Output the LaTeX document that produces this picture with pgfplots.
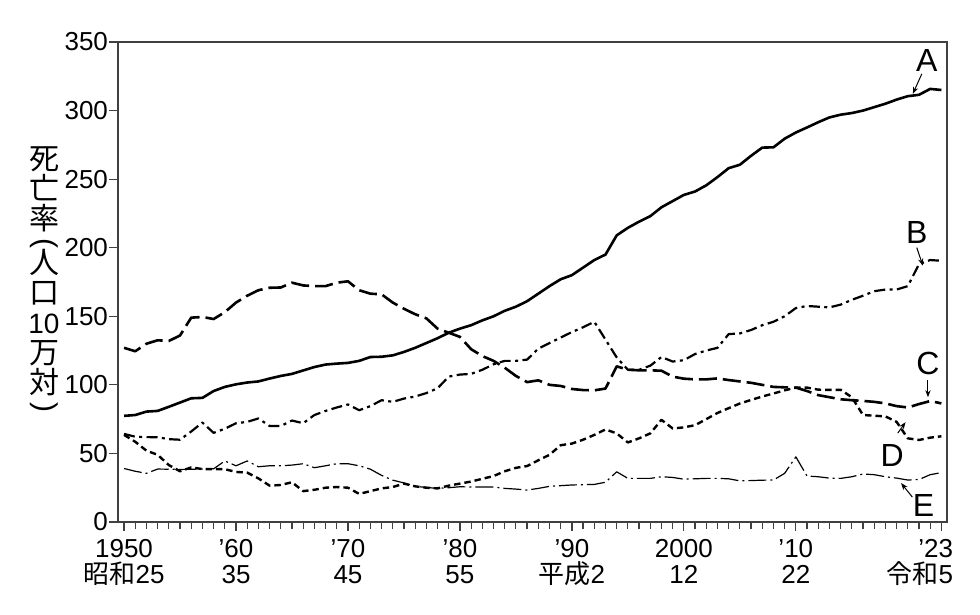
\documentclass[border=0pt]{standalone}
\usepackage{fontspec}
\setmainfont{Liberation Sans}
\newfontfamily\jp{Noto Sans CJK JP}
\usepackage{graphicx}
\usepackage{pgfplots}
\pgfplotsset{compat=1.18}
\usetikzlibrary{arrows.meta}
\begin{document}
\begin{tikzpicture}
\path[use as bounding box] (-59pt,-46.5pt) rectangle (431pt,261pt);
\begin{axis}[
  at={(0pt,0pt)}, anchor=south west,
  scale only axis, width=414.5pt, height=240pt,
  xmin=1949.46, xmax=2023.5, ymin=0, ymax=350,
  axis line style={draw=black!75, line width=0.6pt},
  tick style={draw=black!75, line width=0.6pt},
  tick align=outside,
  xtick pos=left, ytick pos=left,
  major tick length=4.5pt, minor tick length=3.5pt,
  xtick={1950,1960,1970,1980,1990,2000,2010},
  minor xtick={1951,1952,...,2022},
  xticklabels={1950\\{\jp 昭和}25, ’60\\35, ’70\\45, ’80\\55, ’90\\{\jp 平成}2, 2000\\12, ’10\\22},
  extra x ticks={2023},
  extra x tick labels={’23\\{\jp 令和}5},
  extra x tick style={xticklabel style={align=right, xshift=-10.8pt}},
  xticklabel style={align=center, font=\fontsize{13}{13}\selectfont, yshift=-0.5pt},
  ytick={0,50,...,350},
  yticklabel style={font=\fontsize{13}{14}\selectfont, xshift=3pt, /pgf/number format/assume math mode=true},
  clip=false,
  every axis plot/.append style={line join=round, black},
]
% A
\addplot[line width=1.3pt] coordinates {(1950,77.4)(1951,78)(1952,80.5)(1953,81)(1954,84)(1955,87.1)(1956,90.2)(1957,90.5)(1958,95.5)(1959,98.5)(1960,100.4)(1961,101.7)(1962,102.5)(1963,104.6)(1964,106.5)(1965,108)(1966,110.5)(1967,113)(1968,114.8)(1969,115.5)(1970,116)(1971,117.5)(1972,120.3)(1973,120.5)(1974,121.5)(1975,124)(1976,127)(1977,130.5)(1978,134)(1979,138)(1980,141)(1981,143.5)(1982,147)(1983,150)(1984,154)(1985,157)(1986,161)(1987,166.5)(1988,172)(1989,177)(1990,180)(1991,185.5)(1992,191)(1993,195)(1994,209)(1995,214.5)(1996,219)(1997,223)(1998,229.5)(1999,234)(2000,238.5)(2001,241)(2002,245.5)(2003,251.5)(2004,258)(2005,260.5)(2006,267)(2007,273)(2008,273.2)(2009,279.5)(2010,284)(2011,287.7)(2012,291.5)(2013,295)(2014,297)(2015,298.2)(2016,300)(2017,302.5)(2018,305)(2019,308)(2020,310.5)(2021,311.5)(2022,315.8)(2023,315)};
% B
\addplot[line width=1.1pt, dash pattern=on 5.5pt off 2.2pt on 1.5pt off 2.2pt] coordinates {(1950,64.2)(1951,62.2)(1952,61.9)(1953,61.8)(1954,60.4)(1955,60)(1956,66)(1957,72.5)(1958,65)(1959,68)(1960,72)(1961,73)(1962,75.5)(1963,70)(1964,70)(1965,74)(1966,72)(1967,78)(1968,81)(1969,83.5)(1970,85.7)(1971,81.5)(1972,84.5)(1973,88.8)(1974,87.6)(1975,90)(1976,91.5)(1977,94)(1978,97.5)(1979,106)(1980,107.5)(1981,108)(1982,111)(1983,115)(1984,117.5)(1985,117.5)(1986,118.4)(1987,126.4)(1988,130.5)(1989,134.5)(1990,138.5)(1991,142)(1992,146)(1993,133)(1994,120)(1995,111)(1996,111)(1997,114)(1998,120.3)(1999,117)(2000,118)(2001,122.5)(2002,125)(2003,127)(2004,137)(2005,137.5)(2006,140)(2007,143.5)(2008,146)(2009,150)(2010,156)(2011,157.5)(2012,157)(2013,156.5)(2014,158.5)(2015,162)(2016,165)(2017,168.3)(2018,169.5)(2019,169.5)(2020,172)(2021,188)(2022,191)(2023,190.5)};
% C
\addplot[line width=1.3pt, dash pattern=on 9pt off 3pt] coordinates {(1950,127)(1951,124.5)(1952,130)(1953,132.5)(1954,132)(1955,136)(1956,149)(1957,149.5)(1958,148)(1959,153)(1960,160)(1961,165)(1962,169)(1963,170.8)(1964,171)(1965,174.5)(1966,172.5)(1967,172)(1968,172)(1969,174.5)(1970,175.5)(1971,169)(1972,166.5)(1973,166)(1974,160)(1975,155.5)(1976,151.5)(1977,148.5)(1978,141)(1979,138)(1980,135)(1981,126)(1982,121)(1983,117.5)(1984,112.5)(1985,106.5)(1986,102)(1987,103.3)(1988,100)(1989,99.2)(1990,97)(1991,96.2)(1992,96)(1993,97.3)(1994,113.5)(1995,111)(1996,110.6)(1997,110.6)(1998,110.3)(1999,106)(2000,104.5)(2001,104)(2002,104)(2003,104.7)(2004,103.5)(2005,102.5)(2006,101.5)(2007,100)(2008,98.5)(2009,98.2)(2010,98)(2011,95.5)(2012,92.5)(2013,91)(2014,89.5)(2015,88.8)(2016,88.3)(2017,87.6)(2018,86.5)(2019,84.5)(2020,83.5)(2021,86)(2022,88.2)(2023,86.5)};
% D
\addplot[line width=1.2pt, dash pattern=on 3.2pt off 2pt] coordinates {(1950,63.5)(1951,58.5)(1952,52)(1953,49)(1954,41.5)(1955,37)(1956,39.8)(1957,38.6)(1958,38.6)(1959,38.5)(1960,36.5)(1961,36)(1962,31.8)(1963,26.5)(1964,27)(1965,29)(1966,22.5)(1967,23.5)(1968,25)(1969,25.5)(1970,25)(1971,20.5)(1972,22.5)(1973,24.5)(1974,25.5)(1975,28)(1976,26)(1977,25)(1978,24.5)(1979,26.5)(1980,28)(1981,29.5)(1982,31.5)(1983,33.5)(1984,37)(1985,39.5)(1986,40.8)(1987,45)(1988,49)(1989,56)(1990,57.2)(1991,60)(1992,63.5)(1993,67.5)(1994,64.6)(1995,58)(1996,61)(1997,64.6)(1998,74.5)(1999,68.2)(2000,69)(2001,70.6)(2002,75)(2003,79.5)(2004,83)(2005,86.4)(2006,89)(2007,91.5)(2008,93.7)(2009,96)(2010,98)(2011,98)(2012,96.5)(2013,96.3)(2014,96.4)(2015,91)(2016,78)(2017,77.5)(2018,77)(2019,73)(2020,61)(2021,59.8)(2022,61.5)(2023,62.5)};
% E
\addplot[line width=0.6pt, dash pattern=on 9pt off 2pt on 1pt off 2pt] coordinates {(1950,39)(1951,37)(1952,35.5)(1953,38.6)(1954,38.5)(1955,38.3)(1956,38.5)(1957,38.6)(1958,38.8)(1959,44.5)(1960,41)(1961,44.5)(1962,40.3)(1963,41)(1964,41)(1965,41.5)(1966,42.5)(1967,39.6)(1968,41)(1969,42.5)(1970,42.5)(1971,41)(1972,38.5)(1973,34)(1974,30.5)(1975,28.5)(1976,26)(1977,25.2)(1978,24.5)(1979,25)(1980,25.7)(1981,25.5)(1982,25.5)(1983,25.5)(1984,24.5)(1985,24)(1986,23.3)(1987,24.5)(1988,26)(1989,26.5)(1990,27)(1991,27.2)(1992,27.4)(1993,29)(1994,36.6)(1995,31.8)(1996,31.8)(1997,31.8)(1998,33)(1999,32.5)(2000,31.2)(2001,31.5)(2002,31.8)(2003,31.8)(2004,31.5)(2005,30)(2006,30.2)(2007,30.5)(2008,30.6)(2009,35.5)(2010,47.5)(2011,33.5)(2012,33)(2013,32)(2014,31.8)(2015,33)(2016,35)(2017,34.5)(2018,33)(2019,32)(2020,30.6)(2021,31)(2022,34.5)(2023,36)};
% labels
\begin{scope}[every node/.style={font=\fontsize{16}{16}\selectfont, inner sep=0pt}]
\node at (axis cs:2021.7,336.2) {A};
\node at (axis cs:2020.8,211) {B};
\node at (axis cs:2021.8,115.7) {C};
\node at (axis cs:2018.6,48.8) {D};
\node at (axis cs:2021.4,12.4) {E};
\end{scope}
\begin{scope}[line width=0.5pt, -{Stealth[length=3.5pt,width=2.6pt]}]
\draw (axis cs:2021.25,326.8) -- (axis cs:2020.45,312.2);
\draw (axis cs:2020.8,200.1) -- (axis cs:2021.34,187);
\draw (axis cs:2021.8,103.3) -- (axis cs:2021.8,91);
\draw (axis cs:2019.1,64.8) -- (axis cs:2019.8,72.8);
\draw (axis cs:2020.4,18.2) -- (axis cs:2019.4,28.4);
\end{scope}
\end{axis}
\node[font=\jp\fontsize{15}{15}\selectfont, align=center, inner sep=0pt, anchor=north] at (-37pt,188pt)
  {死\\亡\\率\\[-4pt]{\rmfamily\rotatebox[origin=c]{-90}{(}}\\[-4pt]人\\口\\{\rmfamily\fontsize{14}{15}\selectfont 10}\\万\\対\\[-4pt]{\rmfamily\rotatebox[origin=c]{-90}{)}}};
\end{tikzpicture}
\end{document}
